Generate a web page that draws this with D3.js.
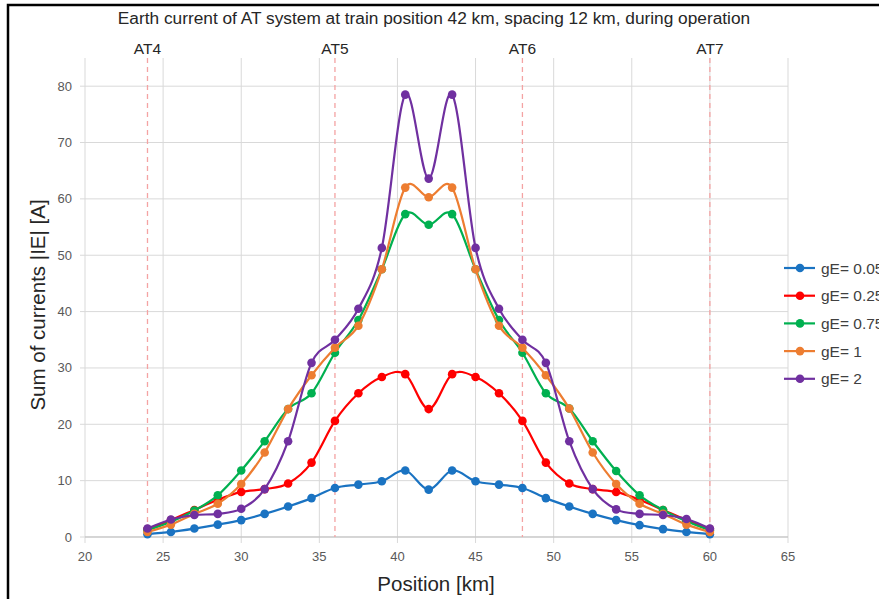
<!DOCTYPE html>
<html><head><meta charset="utf-8">
<script src="https://cdn.jsdelivr.net/npm/d3@7"></script>
<style>body{margin:0;background:#fff}svg{display:block;font-family:"Liberation Sans",Arial,sans-serif}</style>
</head><body><svg id="c" width="879" height="599"></svg>
<script>
const positions = [24,25.5,27,28.5,30,31.5,33,34.5,36,37.5,39,40.5,42,43.5,45,46.5,48,49.5,51,52.5,54,55.5,57,58.5,60];
const gE005 = [0.5,0.9,1.5,2.2,3.0,4.1,5.4,6.9,8.7,9.3,9.9,11.8,8.4,11.8,9.9,9.3,8.7,6.9,5.4,4.1,3.0,2.1,1.4,0.9,0.5];
const gE025 = [1.4,3.0,4.8,6.6,8.0,8.5,9.5,13.2,20.6,25.5,28.4,28.9,22.7,28.9,28.4,25.5,20.6,13.2,9.5,8.5,8.0,6.6,4.8,3.0,1.4];
const gE075 = [1.2,2.7,4.7,7.4,11.8,17.0,22.7,25.5,32.7,38.5,47.5,57.3,55.4,57.3,47.5,38.5,32.7,25.5,22.8,17.0,11.7,7.4,4.8,2.8,1.2];
const gE1   = [0.9,2.2,4.1,5.9,9.4,15.0,22.7,28.7,33.6,37.5,47.5,62.0,60.3,62.0,47.5,37.5,33.6,28.7,22.8,15.0,9.4,5.9,4.1,2.2,0.9];
const gE2   = [1.5,3.1,3.9,4.1,5.0,8.5,17.0,30.9,35.0,40.5,51.3,78.5,63.6,78.5,51.3,40.5,35.0,30.9,17.0,8.5,4.9,4.1,3.9,3.2,1.5];
const seriesNames = ["gE= 0.05","gE= 0.25","gE= 0.75","gE= 1","gE= 2"];
const seriesColors = ["#1a73c2","#ff0000","#00b050","#ed7d31","#7030a0"];
const atNames = ["AT4","AT5","AT6","AT7"];
const atPositions = [24,36,48,60];
const xTicks = [20,25,30,35,40,45,50,55,60,65];
const yTicks = [0,10,20,30,40,50,60,70,80];
const seriesValues = [gE005,gE025,gE075,gE1,gE2];

const svg = d3.select("#c");
const L=85,R=788,T=58,B=537;
const x = d3.scaleLinear().domain([20,65]).range([L,R]);
const y = d3.scaleLinear().domain([0,85]).range([B,T]);

// frame
svg.append("path").attr("d","M8,599 L8,5 L879,5").attr("fill","none").attr("stroke","#000").attr("stroke-width",2.5);

// grid
svg.append("g").selectAll("line").data(xTicks).join("line")
  .attr("x1",d=>x(d)).attr("x2",d=>x(d)).attr("y1",T).attr("y2",B+6)
  .attr("stroke","#d9d9d9").attr("stroke-width",1);
svg.append("g").selectAll("line").data(yTicks).join("line")
  .attr("x1",L-5).attr("x2",R).attr("y1",d=>y(d)).attr("y2",d=>y(d))
  .attr("stroke","#d9d9d9").attr("stroke-width",1);
svg.append("line").attr("x1",L).attr("x2",R).attr("y1",B).attr("y2",B).attr("stroke","#bfbfbf");

// tick labels
svg.append("g").selectAll("text").data(xTicks).join("text")
  .attr("x",d=>x(d)).attr("y",B+24).attr("text-anchor","middle")
  .attr("font-size",13).attr("fill","#595959").text(d=>d);
svg.append("g").selectAll("text").data(yTicks).join("text")
  .attr("x",L-13).attr("y",d=>y(d)+4.5).attr("text-anchor","end")
  .attr("font-size",13).attr("fill","#595959").text(d=>d);

// AT lines
svg.append("g").selectAll("line").data(atPositions).join("line")
  .attr("x1",d=>x(d)).attr("x2",d=>x(d)).attr("y1",T).attr("y2",B)
  .attr("stroke","#f4a3a3").attr("stroke-width",1.3).attr("stroke-dasharray","5,4");
svg.append("g").selectAll("text").data(atNames).join("text")
  .attr("x",(d,i)=>x(atPositions[i])).attr("y",54).attr("text-anchor","middle")
  .attr("font-size",15.5).attr("fill","#262626").text(d=>d);

// title & axis titles
svg.append("text").attr("x",434).attr("y",24).attr("text-anchor","middle")
  .attr("font-size",17.3).attr("fill","#262626")
  .text("Earth current of AT system at train position 42 km, spacing 12 km, during operation");
svg.append("text").attr("x",436).attr("y",591).attr("text-anchor","middle")
  .attr("font-size",20.5).attr("fill","#262626").text("Position [km]");
svg.append("text").attr("transform","translate(45,305) rotate(-90)").attr("text-anchor","middle")
  .attr("font-size",20.5).attr("fill","#262626").text("Sum of currents |IE| [A]");

// series
const line = d3.line().x((d,i)=>x(positions[i])).y(d=>y(d)).curve(d3.curveCardinal.tension(0));
seriesValues.forEach((vals,k)=>{
  const g = svg.append("g");
  g.append("path").datum(vals).attr("d",line).attr("fill","none")
    .attr("stroke",seriesColors[k]).attr("stroke-width",2.2);
  g.selectAll("circle").data(vals).join("circle")
    .attr("cx",(d,i)=>x(positions[i])).attr("cy",d=>y(d)).attr("r",4.3)
    .attr("fill",seriesColors[k]);
});

// legend
const lg = svg.append("g");
seriesNames.forEach((n,k)=>{
  const yy = 268 + k*27.7;
  lg.append("line").attr("x1",784).attr("x2",815).attr("y1",yy).attr("y2",yy)
    .attr("stroke",seriesColors[k]).attr("stroke-width",2.2);
  lg.append("circle").attr("cx",800).attr("cy",yy).attr("r",4.3).attr("fill",seriesColors[k]);
  lg.append("text").attr("x",821).attr("y",yy+5.5).attr("font-size",15.5).attr("fill","#404040").text(n);
});
</script></body></html>
